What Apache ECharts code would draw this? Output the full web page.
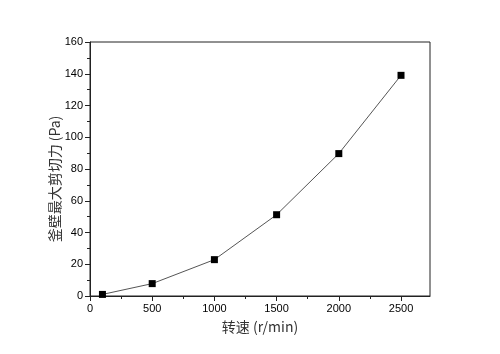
<!DOCTYPE html>
<html>
<head>
<meta charset="utf-8">
<script src="https://cdn.jsdelivr.net/npm/echarts@6/dist/echarts.min.js"></script>
<style>
    html, body { margin: 0; padding: 0; background: #fff; }
    #chart { width: 500px; height: 354px; }
</style>
</head>
<body>
<div id="chart"></div>
<script>
// 转速 (r/min) 与 釜壁最大剪切力 (Pa)
const speeds = [100, 500, 1000, 1500, 2000, 2500];
const shear = [1.0, 7.8, 22.9, 51.2, 89.7, 139.0];
const xMajor = [0, 500, 1000, 1500, 2000, 2500];
const xMinor = [250, 750, 1250, 1750, 2250];

const axisColor = '#222';
const labelFont = 'Arial, "Liberation Sans", sans-serif';
const cjkFont = '"Noto Sans CJK SC", sans-serif';

const chart = echarts.init(document.getElementById('chart'));

chart.setOption({
    animation: false,
    grid: {
        left: 90,
        right: 70,
        top: 42,
        bottom: 58,
        show: true,
        borderColor: axisColor,
        borderWidth: 1,
    },
    xAxis: [
        {
            type: 'value',
            min: 0,
            max: 2733,
            name: '转速 (r/min)',
            nameLocation: 'middle',
            nameGap: 24,
            nameMoveOverlap: false,
            nameTextStyle: { fontFamily: cjkFont, fontSize: 14, color: '#333' },
            axisLine: { lineStyle: { color: axisColor, width: 1 } },
            axisTick: { length: 5, customValues: xMajor, lineStyle: { color: axisColor } },
            axisLabel: {
                customValues: xMajor,
                formatter: v => String(v),
                fontFamily: labelFont, fontSize: 11, color: '#000', margin: 7,
            },
            splitLine: { show: false },
        },
        {
            type: 'value',
            min: 0,
            max: 2733,
            position: 'bottom',
            axisLine: { show: false },
            axisTick: { length: 3, customValues: xMinor, lineStyle: { color: axisColor } },
            axisLabel: { show: false },
            splitLine: { show: false },
        },
    ],
    yAxis: {
        type: 'value',
        min: 0,
        max: 160,
        interval: 20,
        name: '釜壁最大剪切力 (Pa)',
        nameLocation: 'middle',
        nameGap: 28,
        nameMoveOverlap: false,
        nameTextStyle: { fontFamily: cjkFont, fontSize: 14, color: '#333', padding: [0, 20, 0, 0] },
        axisLine: { show: true, lineStyle: { color: axisColor, width: 1 } },
        axisTick: { length: 5, lineStyle: { color: axisColor } },
        minorTick: { show: true, splitNumber: 2, length: 3, lineStyle: { color: axisColor } },
        axisLabel: { fontFamily: labelFont, fontSize: 11, color: '#000', margin: 7 },
        splitLine: { show: false },
    },
    series: [{
        type: 'line',
        data: speeds.map((s, i) => [s, shear[i]]),
        symbol: 'rect',
        symbolSize: 7,
        itemStyle: { color: '#000' },
        lineStyle: { color: '#555', width: 1 },
    }],
});
</script>
</body>
</html>
